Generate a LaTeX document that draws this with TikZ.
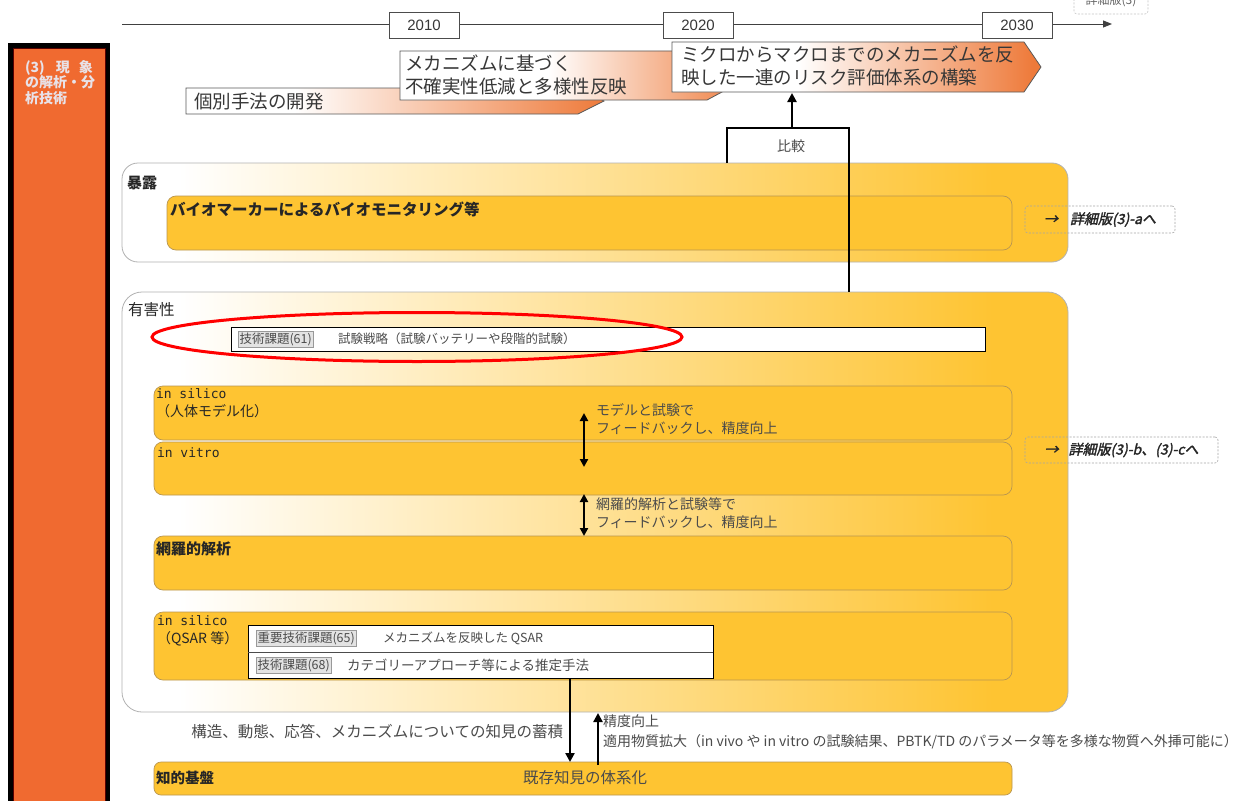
\documentclass[tikz,border=0pt]{standalone}
\usepackage{fontspec}
\setmainfont{Noto Sans CJK JP}
\newfontfamily\arialf{Liberation Sans}
\newfontfamily\monof{DejaVu Sans Mono}
\newfontfamily\detailf[FakeSlant=0.22,FakeBold=2]{Noto Sans CJK JP}
\usetikzlibrary{arrows.meta,calc,shapes.geometric}
\definecolor{boxY}{RGB}{254,196,50}
\definecolor{boxE}{RGB}{185,150,80}
\definecolor{barO}{RGB}{240,106,48}
\definecolor{barT}{RGB}{232,226,232}
\definecolor{bannerO}{RGB}{238,122,58}
\definecolor{txtG}{RGB}{55,55,55}
\definecolor{fbG}{RGB}{75,75,75}
\pgfdeclarehorizontalshading{panelsh}{100bp}{color(0bp)=(white); color(28bp)=(white); color(71bp)=(boxY); color(100bp)=(boxY)}
\pgfdeclarehorizontalshading{bannerA}{100bp}{color(0bp)=(white); color(38bp)=(white); color(75bp)=(bannerO); color(100bp)=(bannerO)}
\pgfdeclarehorizontalshading{bannerB}{100bp}{color(0bp)=(white); color(46bp)=(white); color(75bp)=(bannerO); color(100bp)=(bannerO)}
\pgfdeclarehorizontalshading{bannerC}{100bp}{color(0bp)=(white); color(42bp)=(white); color(74bp)=(bannerO); color(100bp)=(bannerO)}
\begin{document}
\begin{tikzpicture}[x=1pt,y=-1pt,
  every node/.style={inner sep=0pt, outer sep=0pt},
  panel/.style={draw=gray!60, line width=0.8pt, rounded corners=16pt, shading=panelsh, anchor=north west},
  ybox/.style={draw=boxE, line width=0.7pt, fill=boxY, rounded corners=9pt, anchor=north west},
  yearbox/.style={draw=black!70, line width=0.8pt, fill=white, minimum width=70pt, minimum height=26pt, font=\arialf\fontsize{15}{15}\selectfont, text=txtG},
  banner/.style={draw=black!65, line width=0.8pt},
  btxt/.style={anchor=west, align=left, text=txtG, font=\fontsize{18.5}{23}\selectfont},
  lab/.style={anchor=west, align=left, text=black!85},
  tag/.style={draw=gray!80, fill=gray!22, inner sep=1.5pt, anchor=west, text=black!70, font=\fontsize{12.5}{13}\selectfont},
  small/.style={anchor=west, text=black!70, font=\fontsize{12.5}{13}\selectfont},
  detail/.style={draw=gray!70, dash pattern=on 2pt off 1.5pt, line width=0.6pt, rounded corners=3pt, anchor=north west, text=black!85, font=\detailf\fontsize{14}{14}\selectfont},
  fb/.style={anchor=west, align=left, text=fbG, font=\fontsize{14}{18}\selectfont},
  arr/.style={line width=2.6pt, -{Triangle[length=9pt,width=9pt]}},
  darr/.style={line width=2.6pt, {Triangle[length=8pt,width=8pt]}-{Triangle[length=8pt,width=8pt]}}
]
\useasboundingbox (0,0) rectangle (1244,800);
\fill[white] (0,0) rectangle (1244,800);

% left bar
\node[fill=black, minimum width=102pt, minimum height=770pt, anchor=north west] (barout) at (8,43) {};
\node[fill=barO, draw=red!35!black, line width=0.8pt, minimum width=92pt, minimum height=770pt, anchor=north west] (bar) at (13,48) {};
\node[anchor=north west, align=left, text=barT, font=\bfseries\fontsize{14}{15.5}\selectfont] (bartxt) at (25,60) {\hbox to 68pt{(3)\hfill 現\hspace{9pt}象}\\の解析・分\\析技術};

% timeline
\coordinate (tl0) at (122,24);
\coordinate (tl1) at (1112,24);
\draw[line width=0.9pt, black!75, -{Triangle[length=9pt,width=7pt]}] (tl0) -- (tl1);
\node[yearbox] (y2010) at (424,25) {2010};
\node[yearbox] (y2020) at (698,25) {2020};
\node[yearbox] (y2030) at (1017,25) {2030};
\node[draw=gray!45, dash pattern=on 2pt off 1.5pt, line width=0.6pt, rounded corners=3pt, minimum width=74pt, minimum height=26pt, text=black!60, font=\fontsize{12}{12}\selectfont] (det0) at (1111,1) {詳細版(3)};

% banners
\path[banner, shading=bannerA] (186,88) -- (578,88) -- (604,101) -- (578,114) -- (186,114) -- cycle;
\node[btxt] (b1t) at (194,102) {個別手法の開発};
\path[banner, shading=bannerB] (400,51) -- (707,51) -- (752,76) -- (707,100) -- (400,100) -- cycle;
\node[btxt] (b2t) at (405,75) {メカニズムに基づく\\不確実性低減と多様性反映};
\path[banner, shading=bannerC] (672,42) -- (1024,42) -- (1041,67) -- (1024,92) -- (672,92) -- cycle;
\node[btxt] (b3t) at (681,66) {ミクロからマクロまでのメカニズムを反\\映した一連のリスク評価体系の構築};

% exposure panel
\node[panel, minimum width=946pt, minimum height=99pt] (expo) at (122,163) {};
\node[lab, font=\bfseries\fontsize{15}{15}\selectfont] (expol) at (127,183) {暴露};
\node[ybox, minimum width=845pt, minimum height=54pt] (bio) at (167,196) {};
\node[lab, font=\bfseries\fontsize{15.5}{15.5}\selectfont] (biol) at (170,209) {バイオマーカーによるバイオモニタリング等};
\node[detail, minimum width=150pt, minimum height=27pt] (detA) at (1025,206) {→\hspace{12pt}詳細版(3)-aへ};

% hazard panel
\node[panel, rounded corners=20pt, minimum width=946pt, minimum height=420pt] (haz) at (122,292) {};
\node[lab, font=\fontsize{15.5}{15.5}\selectfont] (hazl) at (128,310) {有害性};

% comparison bracket
\coordinate (brL) at (727,163);
\coordinate (brTop) at (792,128);
\coordinate (brR) at (849,292);
\coordinate (b3bot) at (792,93);
\draw[line width=2.6pt] (brL) |- (brTop) -| (brR);
\draw[arr] (brTop) -- (b3bot);
\node[text=fbG, font=\fontsize{14}{14}\selectfont] (cmp) at (791,146) {比較};

% technical issue 61
\node[draw=black, line width=1pt, fill=white, minimum width=754pt, minimum height=24pt, anchor=north west] (t61) at (231,327) {};
\node[tag] (t61tag) at (238,339) {技術課題(61)};
\node[small] (t61txt) at (338,339) {試験戦略（試験バッテリーや段階的試験）};
\node[ellipse, draw=red, line width=3pt, minimum width=530pt, minimum height=49pt] (ring) at (417,337) {};

% in silico / in vitro / omics
\node[ybox, minimum width=858pt, minimum height=54pt] (sil1) at (154,386) {};
\node[lab, anchor=north west, font=\fontsize{14}{18}\selectfont] (sil1l) at (156,389) {{\monof\fontsize{13}{18}\selectfont in silico}\\（人体モデル化）};
\node[ybox, minimum width=858pt, minimum height=53pt] (vit) at (154,442) {};
\node[lab, font=\monof\fontsize{13}{13}\selectfont] (vitl) at (157,453) {in vitro};
\node[ybox, minimum width=858pt, minimum height=54pt] (omics) at (154,536) {};
\node[lab, font=\bfseries\fontsize{15}{15}\selectfont] (omicsl) at (156,549) {網羅的解析};

\coordinate (d1a) at (584,413);
\coordinate (d1b) at (584,467);
\coordinate (d2a) at (584,494);
\coordinate (d2b) at (584,536);
\draw[darr] (d1a) -- (d1b);
\draw[darr] (d2a) -- (d2b);
\node[fb] (fb1) at (596,419) {モデルと試験で\\フィードバックし、精度向上};
\node[fb] (fb2) at (596,513) {網羅的解析と試験等で\\フィードバックし、精度向上};
\node[detail, minimum width=193pt, minimum height=26pt] (detB) at (1025,437) {→\hspace{10pt}詳細版(3)-b、(3)-cへ};

% QSAR
\node[ybox, minimum width=858pt, minimum height=68pt] (qsar) at (154,612) {};
\node[lab, anchor=north west, font=\fontsize{14}{18}\selectfont] (qsarl) at (157,616) {{\monof\fontsize{13}{18}\selectfont in silico}\\（QSAR 等）};
\node[draw=black, line width=1pt, fill=white, minimum width=465pt, minimum height=53pt, anchor=north west] (qw) at (248,625) {};
\draw[black!70, line width=0.7pt] ($(qw.north west)+(0,27)$) -- ($(qw.north east)+(0,27)$);
\node[tag] (q65tag) at (256,638) {重要技術課題(65)};
\node[small] (q65txt) at (383,638) {メカニズムを反映した QSAR};
\node[tag] (q68tag) at (256,665) {技術課題(68)};
\node[small, font=\fontsize{13.5}{14}\selectfont] (q68txt) at (347,665) {カテゴリーアプローチ等による推定手法};

% knowledge base
\node[ybox, rounded corners=7pt, minimum width=858pt, minimum height=33pt] (know) at (154,762) {};
\node[lab, font=\bfseries\fontsize{14.5}{14.5}\selectfont] (knowl) at (156,778) {知的基盤};
\node[text=fbG, font=\fontsize{15.5}{15.5}\selectfont] (knowc) at (585,778) {既存知見の体系化};

\coordinate (dnS) at (570,679);
\coordinate (dnE) at (570,762);
\coordinate (upS) at (598,765);
\coordinate (upE) at (598,713);
\draw[arr] (dnS) -- (dnE);
\draw[arr] (upS) -- (upE);
\node[anchor=east, text=fbG, font=\fontsize{15.5}{15.5}\selectfont] (accum) at (563,732) {構造、動態、応答、メカニズムについての知見の蓄積};
\node[fb, font=\fontsize{14}{20}\selectfont] (expand) at (603,732) {精度向上\\適用物質拡大（in vivo や in vitro の試験結果、PBTK/TD のパラメータ等を多様な物質へ外挿可能に）};
\end{tikzpicture}
\end{document}
